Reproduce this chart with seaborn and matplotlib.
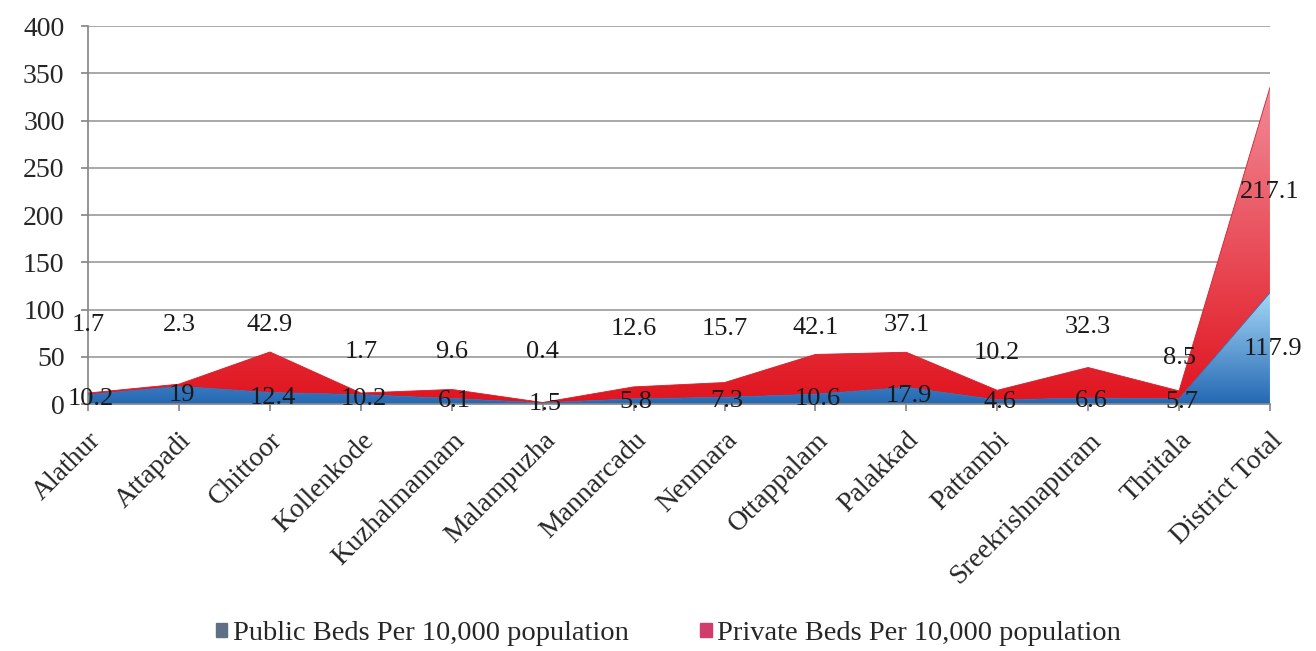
import numpy as np
import pandas as pd
import matplotlib
matplotlib.use("Agg")
import matplotlib.pyplot as plt
import seaborn as sns
from matplotlib.colors import LinearSegmentedColormap
from matplotlib.patches import Patch

# data
blocks = ["Alathur", "Attapadi", "Chittoor", "Kollenkode", "Kuzhalmannam",
          "Malampuzha", "Mannarcadu", "Nenmara", "Ottappalam", "Palakkad",
          "Pattambi", "Sreekrishnapuram", "Thritala", "District Total"]
public_beds = [10.2, 19, 12.4, 10.2, 6.1, 1.5, 5.8, 7.3, 10.6, 17.9, 4.6, 6.6, 5.7, 117.9]
private_beds = [1.7, 2.3, 42.9, 1.7, 9.6, 0.4, 12.6, 15.7, 42.1, 37.1, 10.2, 32.3, 8.5, 217.1]
# where the private labels sit (they were moved around in the original)
private_label_y = [84, 84, 84, 55, 55, 55, 80, 80, 81, 84, 54, 82, 49, 224]

df = pd.DataFrame({"block": blocks, "public": public_beds, "private": private_beds})
df["x"] = np.arange(len(df))
df["total"] = df["public"] + df["private"]

sns.set_theme(style="white")
plt.rcParams["font.family"] = ["Liberation Serif", "DejaVu Serif"]

fig = plt.figure(figsize=(13.16, 6.51), dpi=100)
ax = fig.add_axes([0.067, 0.379, 0.898, 0.581])


def gradient_area(ax, x, lo, hi, c_bottom, c_top, ymax):
    poly = ax.fill_between(x, lo, hi, color="none", lw=0)
    cmap = LinearSegmentedColormap.from_list("g", [c_bottom, c_top])
    grad = np.linspace(0, 1, 256).reshape(-1, 1)
    im = ax.imshow(grad, cmap=cmap, origin="lower", aspect="auto",
                   extent=[x.min(), x.max(), 0, ymax], zorder=2)
    im.set_clip_path(poly.get_paths()[0], transform=ax.transData)


gradient_area(ax, df["x"], 0, df["public"], "#2468b4", "#a6d8f6", df["public"].max())
gradient_area(ax, df["x"], df["public"], df["total"], "#e0141e", "#f28a98", df["total"].max())
sns.lineplot(data=df, x="x", y="public", ax=ax, color="#2a6fba", lw=0.6, zorder=3)
sns.lineplot(data=df, x="x", y="total", ax=ax, color="#dc1c26", lw=0.6, zorder=3)

for xi, pv, pr, ly in zip(df["x"], public_beds, private_beds, private_label_y):
    ax.text(xi + 0.03, pv / 2, f"{pv:g}", ha="center", va="center", fontsize=19, color="#1a1a1a", zorder=4)
    ax.text(xi, ly, f"{pr:g}", ha="center", va="center", fontsize=19, color="#1a1a1a", zorder=4)

ax.set_xlim(0, len(blocks) - 1)
ax.set_ylim(0, 400)
ax.set_yticks(range(0, 401, 50))
ax.set_xticks(df["x"])
ax.set_xticklabels(blocks, rotation=45, ha="right", rotation_mode="anchor", fontsize=20)
ax.tick_params(axis="y", labelsize=20, length=5, color="#888888", left=True, pad=12)
ax.tick_params(axis="x", length=5, color="#888888", bottom=True, pad=12)
ax.yaxis.grid(True, color="#9a9a9a", lw=1.2)
ax.set_axisbelow(True)
for s in ["top", "right"]:
    ax.spines[s].set_visible(False)
ax.spines["left"].set_color("#888888")
ax.spines["bottom"].set_color("#888888")
ax.set_xlabel("")
ax.set_ylabel("")

handles = [Patch(color="#5f6f86", label="Public Beds Per 10,000 population"),
           Patch(color="#d23c6c", label="Private Beds Per 10,000 population")]
fig.legend(handles=handles, loc="center", bbox_to_anchor=(0.508, 0.027), ncol=2,
           frameon=False, fontsize=20.5, handlelength=0.4, handleheight=0.4,
           handletextpad=0.2, columnspacing=2.5)

fig.savefig("out.png", dpi=100)
